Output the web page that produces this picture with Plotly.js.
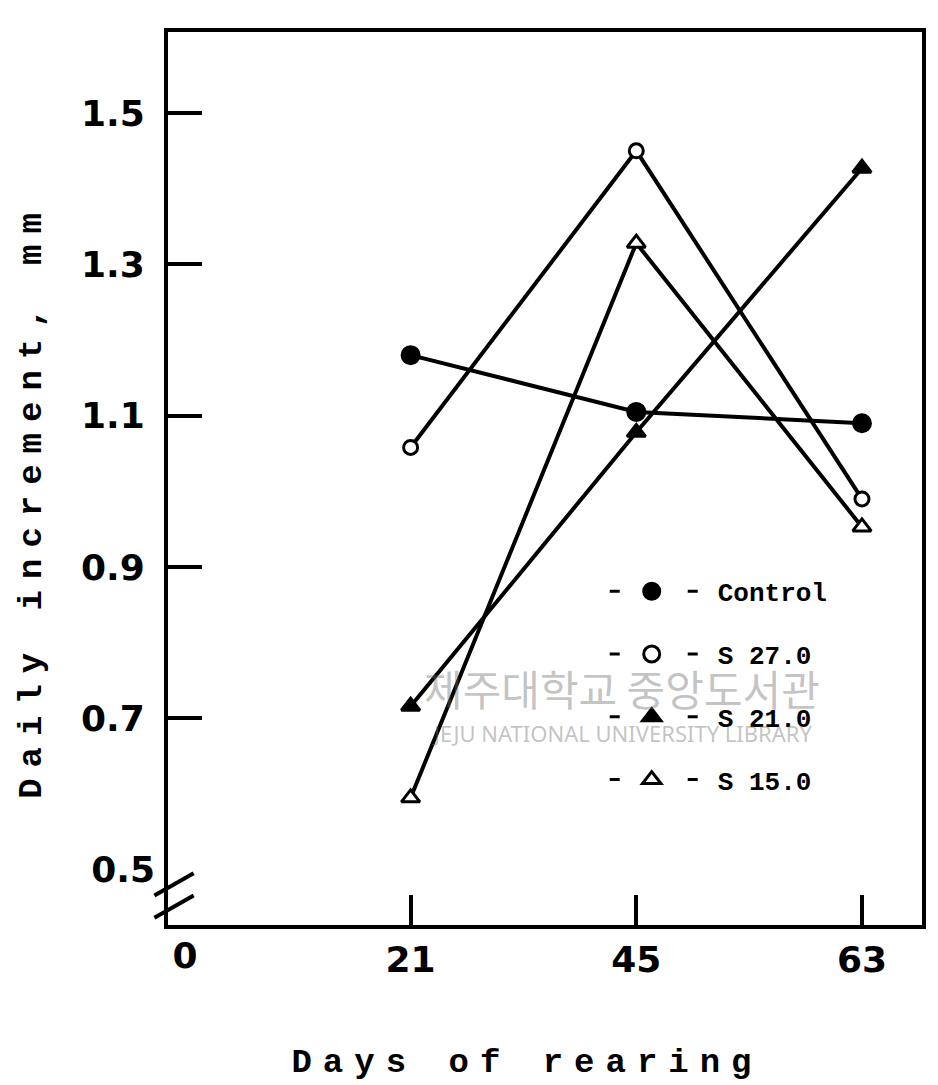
<!DOCTYPE html>
<html>
<head>
<meta charset="utf-8">
<script src="https://cdn.plot.ly/plotly-3.0.1.min.js"></script>
<style>
  html, body { margin: 0; padding: 0; background: #fff; }
  #chart { width: 938px; height: 1085px; }
  .g-xtitle { transform: translate(-18px, 0px); }
  .g-xtitle text { letter-spacing: 11px; }
  .g-ytitle { transform: translate(0px, 22px); }
  .g-ytitle text { letter-spacing: 11px; }
</style>
</head>
<body>
<div id="chart"></div>
<script>
// ---- data ----
const categories = ['0', '21', '45', '63'];
const days = ['21', '45', '63'];
const control = [1.18, 1.105, 1.09];
const s27 = [1.058, 1.45, 0.99];
const s21 = [0.716, 1.078, 1.427];
const s15 = [0.595, 1.328, 0.953];
const seriesNames = ['Control', 'S 27.0', 'S 21.0', 'S 15.0'];
const yTickVals = [0.7, 0.9, 1.1, 1.3, 1.5];
const yTickText = ['0.7', '0.9', '1.1', '1.3', '1.5'];
const yBreakVal = [0.5];
const yBreakText = ['0.5'];
const xTickVals = ['21', '45', '63'];
const xOriginVal = [0];
const xOriginText = ['0'];

const black = '#000000';
const lineW = 4;
const tickFont = { family: 'DejaVu Sans', size: 36, color: black, weight: 'bold' };
const monoFont = { family: 'Liberation Mono', size: 26, color: black, weight: 'bold' };

const styles = [
  { symbol: 'circle', fill: black, size: 17 },
  { symbol: 'circle', fill: '#ffffff', size: 14 },
  { symbol: 'triangle-up', fill: black, size: 16 },
  { symbol: 'triangle-up', fill: '#ffffff', size: 16 }
];
const values = [control, s27, s21, s15];

const traces = [];
values.forEach((vals, i) => {
  const st = styles[i];
  traces.push({
    type: 'scatter', mode: 'lines+markers',
    x: days, y: vals, name: seriesNames[i], showlegend: false,
    line: { color: black, width: lineW },
    marker: { symbol: st.symbol, size: st.size, color: st.fill, line: { color: black, width: 3 } },
    cliponaxis: false
  });
});
// legend entries ("- ● - Control" style)
values.forEach((vals, i) => {
  const st = styles[i];
  traces.push({
    type: 'scatter', mode: 'lines+markers',
    x: [null], y: [null], name: seriesNames[i], legendgroup: 'g' + i, showlegend: true,
    line: { color: black, width: 3, dash: '0px,19px,10px,68px,10px,300px' },
    marker: { symbol: st.symbol, size: 20, color: st.fill, line: { color: black, width: 3 } },
    hoverinfo: 'skip'
  });
});

const yRange = [0.427, 1.607];
const xRange = [-0.075, 3.266];

const layout = {
  width: 938, height: 1085,
  margin: { l: 168, r: 16, t: 32, b: 160 },
  paper_bgcolor: '#ffffff', plot_bgcolor: '#ffffff',
  showlegend: true,
  legend: {
    x: 0.554, y: 0.40, xanchor: 'left', yanchor: 'top',
    bgcolor: 'rgba(0,0,0,0)', borderwidth: 0,
    font: monoFont, traceorder: 'grouped', tracegroupgap: 26,
    itemwidth: 122
  },
  xaxis: {
    type: 'category', categoryorder: 'array', categoryarray: categories,
    range: xRange, showline: true, mirror: true, linewidth: lineW, linecolor: black,
    showgrid: false, zeroline: false,
    tickmode: 'array', tickvals: xTickVals, ticktext: xTickVals,
    ticks: 'inside', ticklen: 30, tickwidth: 4, tickcolor: black,
    tickfont: tickFont, ticklabelstandoff: 0,
    title: { text: 'Days of rearing', font: { family: 'Liberation Mono', size: 34, color: black, weight: 'bold' }, standoff: 70 }
  },
  xaxis2: {
    overlaying: 'x', anchor: 'y', side: 'bottom', type: 'linear',
    range: xRange, showline: false, showgrid: false, zeroline: false,
    tickmode: 'array', tickvals: xOriginVal, ticktext: xOriginText,
    ticks: '', tickfont: tickFont, ticklabelstandoff: 6
  },
  yaxis: {
    range: yRange, showline: true, mirror: true, linewidth: lineW, linecolor: black,
    showgrid: false, zeroline: false,
    tickmode: 'array', tickvals: yTickVals, ticktext: yTickText,
    ticks: 'inside', ticklen: 34, tickwidth: 4, tickcolor: black,
    tickfont: tickFont, ticklabelstandoff: 12,
    title: { text: 'Daily increment, mm', font: { family: 'Liberation Mono', size: 34, color: black, weight: 'bold' }, standoff: 30 }
  },
  yaxis2: {
    overlaying: 'y', anchor: 'x', side: 'left',
    range: yRange, showline: false, showgrid: false, zeroline: false,
    tickmode: 'array', tickvals: yBreakVal, ticktext: yBreakText,
    ticks: '', tickfont: tickFont, ticklabelstandoff: 12
  },
  shapes: [
    { type: 'line', xref: 'paper', yref: 'paper', x0: -0.018, y0: 0.033, x1: 0.034, y1: 0.058, line: { color: black, width: 4 } },
    { type: 'line', xref: 'paper', yref: 'paper', x0: -0.018, y0: 0.008, x1: 0.034, y1: 0.033, line: { color: black, width: 4 } }
  ],
  annotations: [
    { xref: 'paper', yref: 'paper', x: 0.602, y: 0.266, xanchor: 'center', yanchor: 'middle',
      text: '제주대학교 중앙도서관', showarrow: false,
      font: { family: 'Noto Sans CJK KR', size: 42, color: 'rgba(110,110,110,0.42)' } },
    { xref: 'paper', yref: 'paper', x: 0.603, y: 0.215, xanchor: 'center', yanchor: 'middle',
      text: 'JEJU NATIONAL UNIVERSITY LIBRARY', showarrow: false,
      font: { family: 'Noto Sans', size: 22, color: 'rgba(110,110,110,0.42)' } }
  ]
};

// invisible point that activates the overlay axes (0 label on x, 0.5 label on y)
traces.push({ type: 'scatter', x: [0], y: [0.5], xaxis: 'x2', yaxis: 'y2', mode: 'markers',
  marker: { opacity: 0 }, showlegend: false, hoverinfo: 'skip' });

Plotly.newPlot('chart', traces, layout, { displayModeBar: false, staticPlot: true });
</script>
</body>
</html>
